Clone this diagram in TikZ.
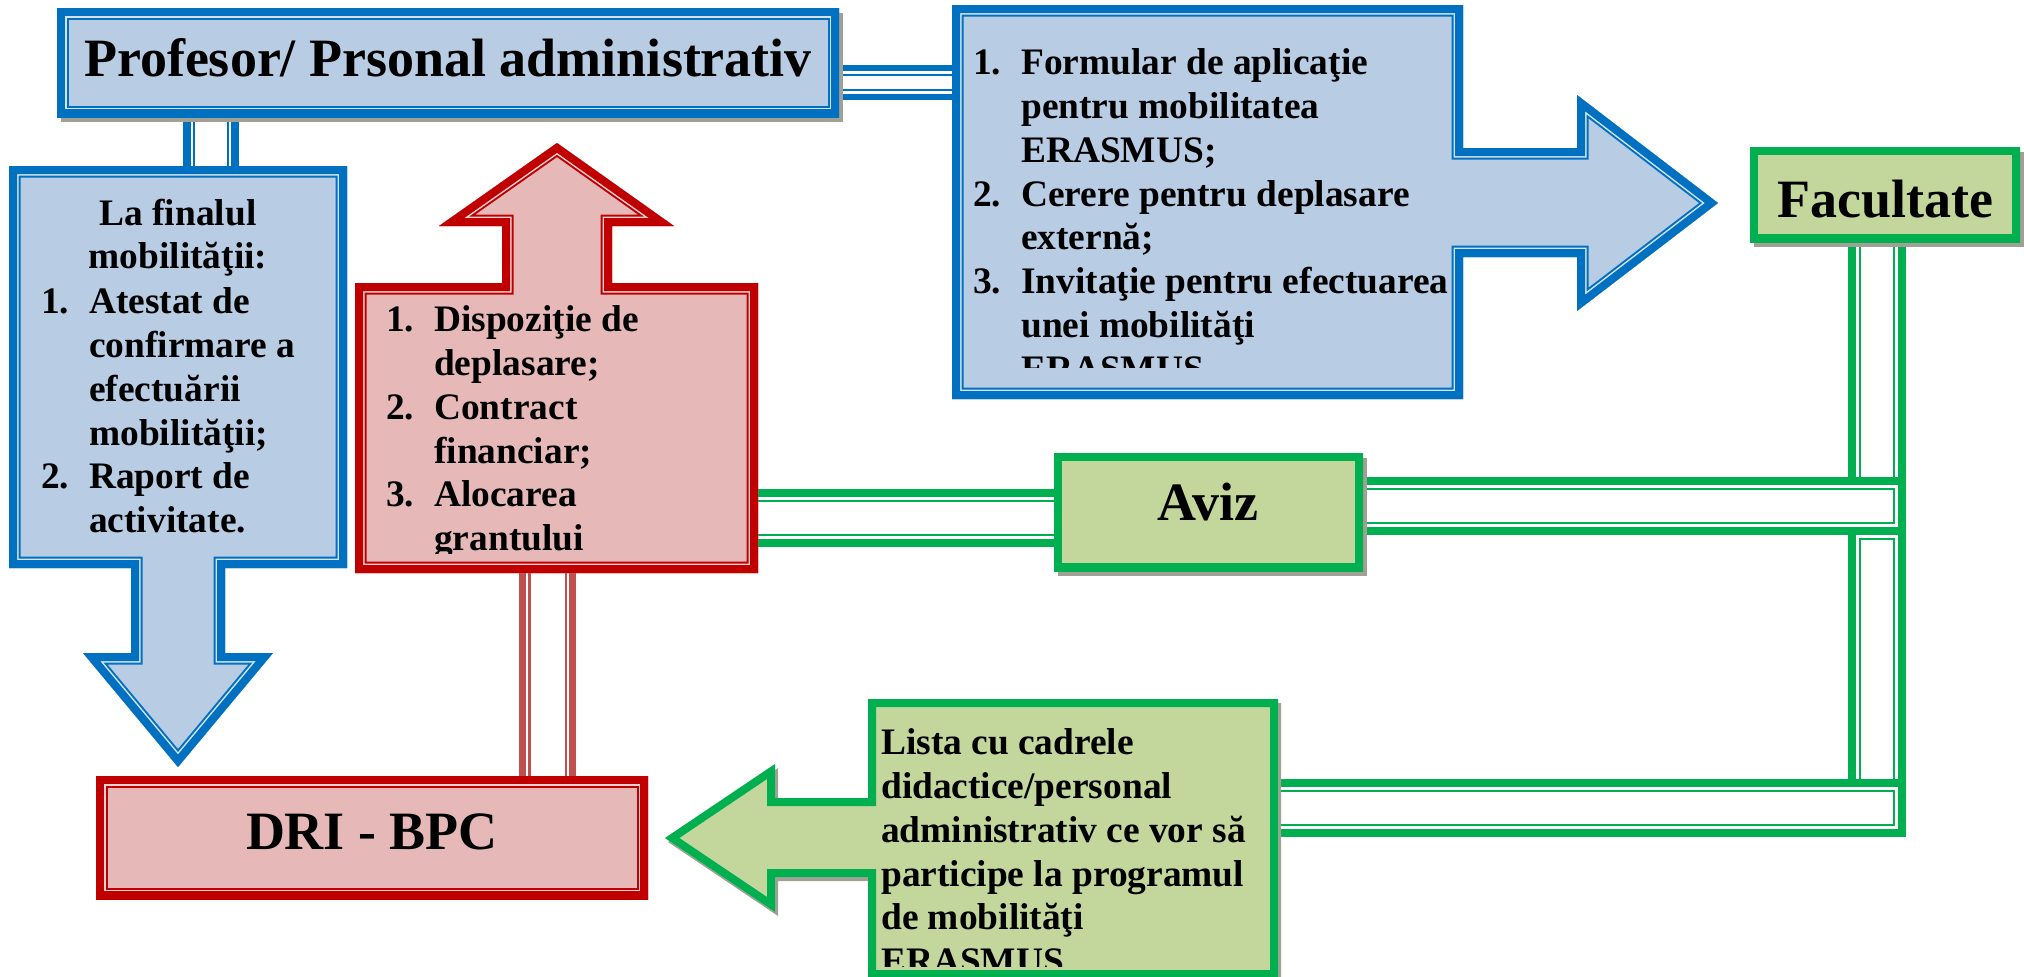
\documentclass[tikz,border=0pt]{standalone}
\usepackage{fontspec}
\setmainfont{Liberation Serif}
\usetikzlibrary{calc,backgrounds}

\definecolor{blueline}{RGB}{0,112,192}
\definecolor{bluefill}{RGB}{184,204,228}
\definecolor{bluegap}{RGB}{214,226,240}
\definecolor{redline}{RGB}{192,0,0}
\definecolor{redfill}{RGB}{230,185,184}
\definecolor{redgap}{RGB}{240,210,210}
\definecolor{redpipeline}{RGB}{192,80,77}
\definecolor{greenline}{RGB}{0,176,80}
\definecolor{greenfill}{RGB}{195,214,155}
\definecolor{shadowgray}{RGB}{160,160,148}

\newcommand\numcell[1]{\makebox[48pt][l]{#1}}
\newcommand\indcell{\hspace*{48pt}}

%thick-thin outline laid inside a closed path
\newcommand\framedshape[2]{%
  \fill[#2 fill] #1;
  \begin{scope}
    \clip #1;
    \draw[#2 outer] #1;
    \draw[#2 gap] #1;
    \draw[#2 inner] #1;
  \end{scope}}
\newcommand\nodeframe[1]{%
  \framedshape{(path picture bounding box.south west) rectangle (path picture bounding box.north east)}{#1}}

\tikzset{
  blue fill/.style={fill=bluefill},
  blue outer/.style={draw=blueline, line width=23pt},
  blue gap/.style={draw=bluegap, line width=19pt},
  blue inner/.style={draw=blueline, line width=16pt},
  red fill/.style={fill=redfill},
  red outer/.style={draw=redline, line width=23pt},
  red gap/.style={draw=redgap, line width=19pt},
  red inner/.style={draw=redline, line width=16pt},
  green fill/.style={fill=greenfill},
  green outer/.style={draw=greenline, line width=16pt},
  green gap/.style={draw=none},
  green inner/.style={draw=none},
  bluebox/.style={rectangle, inner sep=0pt, path picture={\nodeframe{blue}}},
  redbox/.style={rectangle, inner sep=0pt, path picture={\nodeframe{red}}},
  greenbox/.style={rectangle, inner sep=0pt, path picture={\nodeframe{green}}},
  conduit/.style n args={5}{draw=#1, line width=#2, line cap=rect,
    postaction={draw=white, line width=#3, line cap=rect},
    postaction={draw=#1, line width=#4, line cap=rect},
    postaction={draw=white, line width=#5, line cap=rect}},
  bluepipe/.style={conduit={blueline}{35pt}{23pt}{17pt}{13pt}},
  bluepipe wide/.style={conduit={blueline}{56pt}{40pt}{36pt}{32pt}},
  redpipe/.style={conduit={redpipeline}{57pt}{43pt}{39pt}{34pt}},
  greenpipe/.style={conduit={greenline}{58pt}{42pt}{36pt}{32pt}},
  titletext/.style={inner sep=0pt, font=\fontsize{54pt}{60pt}\selectfont\bfseries},
  listtext/.style={inner sep=0pt, align=left, font=\fontsize{37.4pt}{43.8pt}\selectfont\bfseries},
}

\begin{document}
\begin{tikzpicture}[x=1pt,y=1pt,yscale=-1,xscale=1]
\useasboundingbox (0,0) rectangle (2024,977);

%Shape: Down Arrow Callout
\framedshape{(9,166) -- (347,166) -- (347,568) -- (225,568) -- (225,653) -- (273,653) -- (178,767) -- (83,653) -- (131,653) -- (131,568) -- (9,568) -- cycle}{blue}
%Shape: Up Arrow Callout
\framedshape{(355,283) -- (502,283) -- (502,226) -- (439,226) -- (557,143) -- (674,226) -- (612,226) -- (612,283) -- (758,283) -- (758,573) -- (355,573) -- cycle}{red}
%Shape: Right Arrow Callout
\framedshape{(952,5) -- (1463,5) -- (1463,148) -- (1577,148) -- (1577,95) -- (1718,203) -- (1577,311) -- (1577,257) -- (1463,257) -- (1463,399) -- (952,399) -- cycle}{blue}
%Shape: Left Arrow Callout
\fill[shadowgray, shift={(3,4)}] (868,699) -- (1278,699) -- (1278,978) -- (868,978) -- (868,877) -- (775,877) -- (775,912) -- (665,838) -- (775,764) -- (775,798) -- (868,798) -- cycle;
\framedshape{(868,699) -- (1278,699) -- (1278,978) -- (868,978) -- (868,877) -- (775,877) -- (775,912) -- (665,838) -- (775,764) -- (775,798) -- (868,798) -- cycle}{green}

%Pipe ends on the callouts
\coordinate (formsW) at (952,82.5);
\coordinate (finishN) at (211,166);
\coordinate (docsS) at (547.5,573);
\coordinate (docsE) at (758,518);
\coordinate (listaE) at (1278,808);
\coordinate (upperJoin) at (1877,506);
\coordinate (lowerJoin) at (1877,808);

%Shape: Rectangles
\node[bluebox, minimum width=782pt, minimum height=109pt] (prof) at (448,62.5) {};
\node[greenbox, minimum width=270pt, minimum height=95pt] (facult) at (1885,194.5) {};
\node[greenbox, minimum width=309pt, minimum height=118pt] (aviz) at (1208.5,512) {};
\node[redbox, minimum width=552pt, minimum height=123pt] (dri) at (372,837.5) {};

\begin{scope}[on background layer]
%Pipes
\draw[greenpipe] (facult.south -| upperJoin) -- (upperJoin);
\draw[greenpipe] ($(upperJoin)+(0,50)$) -- (lowerJoin);
\draw[greenpipe] (aviz.east |- upperJoin) -- (upperJoin);
\draw[greenpipe] (listaE) -- (lowerJoin);
\draw[greenpipe] (docsE) -- (aviz.west |- docsE);
\draw[bluepipe] (prof.east |- formsW) -- (formsW);
\draw[bluepipe wide] (prof.south -| finishN) -- (finishN);
\draw[redpipe] (docsS) -- (dri.north -| docsS);
%Shadows
\fill[shadowgray] (61,13) rectangle (843,122);
\fill[shadowgray] (1754,152) rectangle (2024,247);
\fill[shadowgray] (1058,458) rectangle (1367,576);
\end{scope}

% Text Node
\draw (448,76) node [titletext, anchor=base] (profLabel) {Profesor/ Prsonal administrativ};
% Text Node
\draw (1885,217) node [titletext, anchor=base] (facultLabel) {Facultate};
% Text Node
\draw (1208,520) node [titletext, anchor=base] (avizLabel) {Aviz};
% Text Node
\draw (372,849) node [titletext, anchor=base] (driLabel) {DRI - BPC};
% Text Node
\draw (178,198.5) node [listtext, anchor=north, align=center] (finishHead) {La finalul\\mobilităţii:};
% Text Node
\draw (41,287.5) node [listtext, anchor=north west] (finishList) {\numcell{1.}Atestat de\\\indcell confirmare a\\\indcell efectuării\\\indcell mobilităţii;\\\numcell{2.}Raport de\\\indcell activitate.};
% Text Node
\begin{scope}
\clip (960,10) rectangle (1460,367);
\draw (973,48.5) node [listtext, anchor=north west] (formsText) {\numcell{1.}Formular de aplicaţie\\\indcell pentru mobilitatea\\\indcell ERASMUS;\\\numcell{2.}Cerere pentru deplasare\\\indcell externă;\\\numcell{3.}Invitaţie pentru efectuarea\\\indcell unei mobilităţi\\\indcell ERASMUS};
\end{scope}
% Text Node
\begin{scope}
\clip (362,290) rectangle (752,553);
\draw (386,305.5) node [listtext, anchor=north west] (docsText) {\numcell{1.}Dispoziţie de\\\indcell deplasare;\\\numcell{2.}Contract\\\indcell financiar;\\\numcell{3.}Alocarea\\\indcell grantului};
\end{scope}
% Text Node
\begin{scope}
\clip (874,705) rectangle (1272,966);
\draw (881,728.5) node [listtext, anchor=north west] (listaText) {Lista cu cadrele\\didactice/personal\\administrativ ce vor să\\participe la programul\\de mobilităţi\\ERASMUS};
\end{scope}

\end{tikzpicture}
\end{document}
